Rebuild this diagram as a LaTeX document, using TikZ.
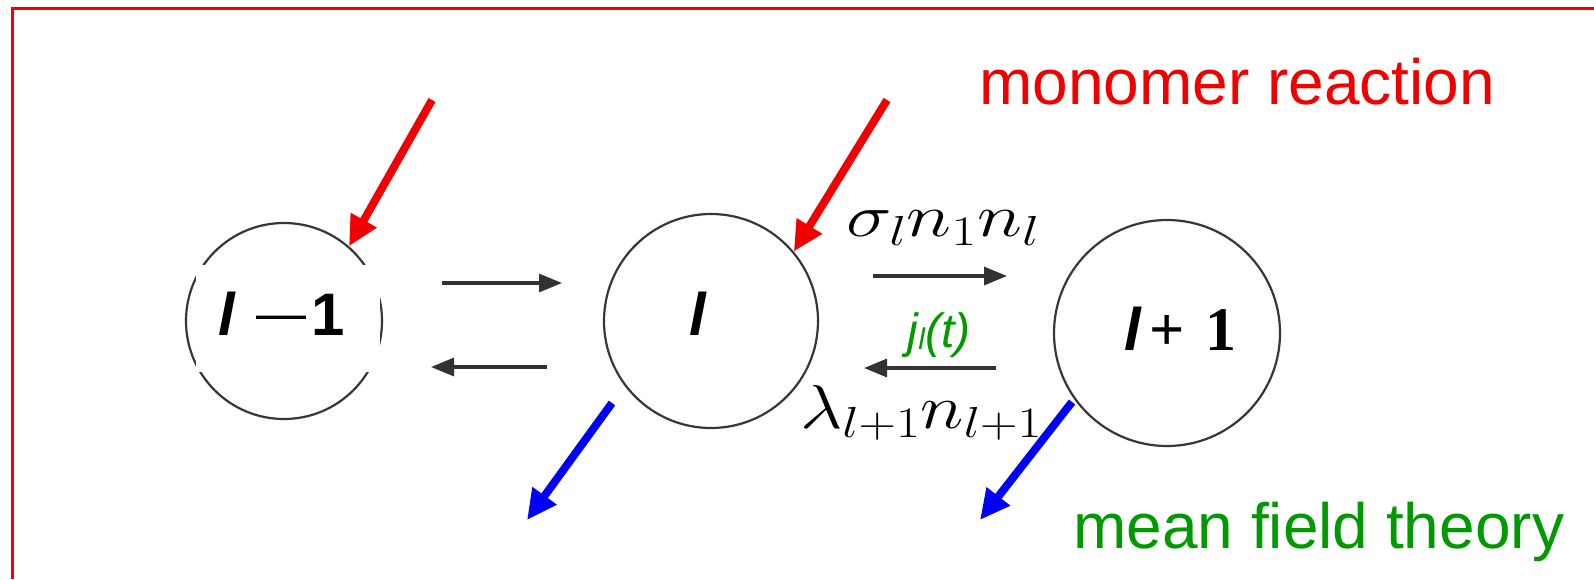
\RequirePackage{fix-cm}
\documentclass[tikz,border=0pt]{standalone}
\usepackage{fontspec}
\setmainfont{Liberation Sans}
\newfontfamily\serifb{Liberation Serif}
\usepackage{graphicx}
\usetikzlibrary{arrows.meta}
\definecolor{myred}{RGB}{240,0,0}
\definecolor{mygreen}{RGB}{0,153,0}
\definecolor{myblue}{RGB}{0,0,245}
\definecolor{ringgray}{RGB}{55,55,55}
\definecolor{arrgray}{RGB}{50,50,50}
\begin{document}
\begin{tikzpicture}[x=1pt,y=-1pt,
  circ/.style={circle,draw=ringgray,line width=2.2pt,inner sep=0pt},
  blk/.style={line width=3.2pt,draw=arrgray,-{Triangle[length=23pt,width=18pt]}},
  redarr/.style={line width=8pt,draw=myred,-{Triangle[length=30pt,width=28pt]}},
  bluearr/.style={line width=8pt,draw=myblue,-{Triangle[length=30pt,width=28pt]}},
  lbl/.style={inner sep=0pt}]
\useasboundingbox (0,0) rectangle (1594,579);
\fill[white] (0,0) rectangle (1594,579);
% frame (top and left edges)
\draw[myred,line width=3pt] (12.5,579) -- (12.5,8) -- (1594,8);
% circles
\node[circ,minimum size=196pt] (lm1) at (284,321) {};
\fill[white] (196,265) rectangle (380,372);
\node[circ,minimum size=214pt] (l) at (711,321) {};
\node[circ,minimum size=226pt] (lp1) at (1167,333) {};
% circle labels
\node[lbl,anchor=base west] (tlm1) at (218,335)
  {\fontsize{60}{60}\selectfont\bfseries\itshape l\upshape\hspace{22pt}\raisebox{5pt}{\mdseries\fontsize{50}{50}\selectfont —}\hspace{5pt}1};
\node[lbl,anchor=base] (tl) at (698,335) {\fontsize{60}{60}\selectfont\bfseries\itshape l};
\node[lbl,anchor=base west] (tlp1) at (1124,350)
  {\fontsize{60}{60}\selectfont\bfseries\itshape l\upshape\serifb\fontsize{62}{62}\selectfont\hspace{9pt}+\hspace{20pt}1};
% coordinates for connectors
\coordinate (a1s) at (442,283); \coordinate (a1e) at (562,283);
\coordinate (a2s) at (547,367); \coordinate (a2e) at (431,367);
\coordinate (a3s) at (873,276); \coordinate (a3e) at (1007,276);
\coordinate (a4s) at (996,368); \coordinate (a4e) at (864,368);
\coordinate (r1s) at (432,100); \coordinate (r2s) at (887,100);
\coordinate (b1s) at (612,403); \coordinate (b1e) at (527,520);
\coordinate (b2s) at (1072,402); \coordinate (b2e) at (980,520);
% black reaction arrows
\draw[blk] (a1s) -- (a1e);
\draw[blk] (a2s) -- (a2e);
\draw[blk] (a3s) -- (a3e);
\draw[blk] (a4s) -- (a4e);
% red monomer arrows
\draw[redarr] (r1s) -- (lm1.49);
\draw[redarr] (r2s) -- (l.40);
% blue arrows
\draw[bluearr] (b1s) -- (b1e);
\draw[bluearr] (b2s) -- (b2e);
% rate labels
\node[lbl,anchor=base] (sig) at (943,236)
  {\fontsize{60}{72}\selectfont\resizebox{193pt}{\height}{$\sigma_l n_1 n_l$}};
\node[lbl,anchor=base] (lam) at (921,428)
  {\fontsize{62}{72}\selectfont\resizebox{242pt}{\height}{$\lambda_{l+1} n_{l+1}$}};
\node[lbl,anchor=base,text=mygreen] (jl) at (939,347)
  {\fontsize{48}{48}\selectfont\itshape j\raisebox{-2pt}{\fontsize{30}{30}\selectfont l}(t)};
% titles
\node[lbl,anchor=base west,text=myred,font=\fontsize{64}{64}\selectfont] (mr) at (979,104) {monomer reaction};
\node[lbl,anchor=base west,text=mygreen,font=\fontsize{64}{64}\selectfont] (mft) at (1073,548) {mean field theory};
\end{tikzpicture}
\end{document}
